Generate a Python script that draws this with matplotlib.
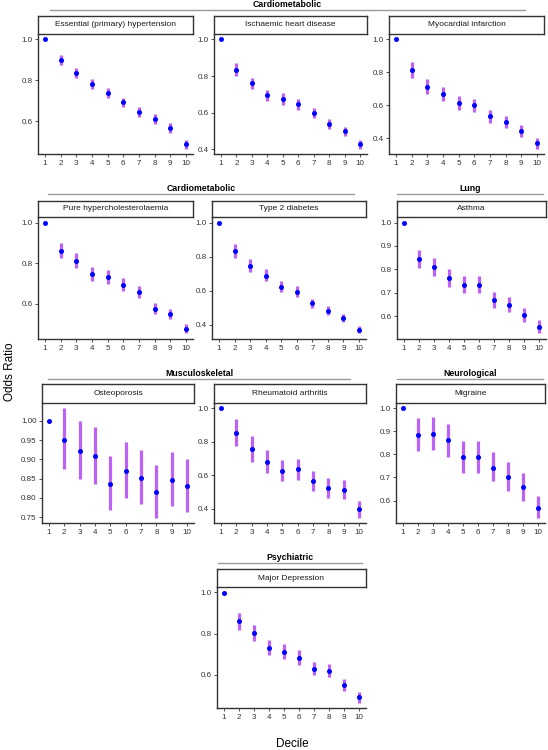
import numpy as np
import matplotlib.pyplot as plt
from matplotlib.ticker import MultipleLocator, FormatStrFormatter

plt.rcParams['font.family'] = ['Liberation Sans', 'DejaVu Sans']

W, H = 548, 750

deciles = [1, 2, 3, 4, 5, 6, 7, 8, 9, 10]

# Odds ratios and 95% CI
ess_or = [1.0, 0.898, 0.836, 0.780, 0.736, 0.691, 0.645, 0.611, 0.566, 0.487]
ess_lo = [1.0, 0.873, 0.811, 0.755, 0.712, 0.667, 0.621, 0.587, 0.543, 0.465]
ess_hi = [1.0, 0.923, 0.861, 0.805, 0.760, 0.715, 0.669, 0.635, 0.589, 0.509]

ihd_or = [1.0, 0.836, 0.760, 0.696, 0.675, 0.646, 0.597, 0.537, 0.499, 0.428]
ihd_lo = [1.0, 0.803, 0.729, 0.666, 0.645, 0.617, 0.569, 0.511, 0.474, 0.405]
ihd_hi = [1.0, 0.870, 0.792, 0.727, 0.706, 0.676, 0.626, 0.564, 0.525, 0.452]

mi_or = [1.0, 0.814, 0.714, 0.670, 0.612, 0.600, 0.534, 0.500, 0.446, 0.370]
mi_lo = [1.0, 0.764, 0.668, 0.626, 0.570, 0.558, 0.495, 0.462, 0.411, 0.339]
mi_hi = [1.0, 0.866, 0.760, 0.714, 0.655, 0.642, 0.574, 0.538, 0.482, 0.402]

hch_or = [1.0, 0.862, 0.812, 0.745, 0.732, 0.693, 0.657, 0.575, 0.550, 0.477]
hch_lo = [1.0, 0.824, 0.776, 0.711, 0.699, 0.662, 0.627, 0.549, 0.525, 0.453]
hch_hi = [1.0, 0.901, 0.849, 0.780, 0.766, 0.725, 0.688, 0.602, 0.576, 0.502]

t2d_or = [1.0, 0.834, 0.747, 0.689, 0.624, 0.594, 0.525, 0.483, 0.440, 0.370]
t2d_lo = [1.0, 0.792, 0.710, 0.655, 0.593, 0.564, 0.498, 0.457, 0.417, 0.349]
t2d_hi = [1.0, 0.877, 0.786, 0.725, 0.657, 0.626, 0.553, 0.510, 0.465, 0.392]

ast_or = [1.0, 0.843, 0.809, 0.763, 0.735, 0.735, 0.668, 0.650, 0.606, 0.555]
ast_lo = [1.0, 0.805, 0.772, 0.727, 0.700, 0.700, 0.636, 0.619, 0.577, 0.527]
ast_hi = [1.0, 0.883, 0.848, 0.801, 0.772, 0.772, 0.702, 0.683, 0.637, 0.584]

ost_or = [1.0, 0.950, 0.922, 0.908, 0.836, 0.871, 0.852, 0.816, 0.847, 0.831]
ost_lo = [1.0, 0.876, 0.849, 0.836, 0.769, 0.800, 0.784, 0.749, 0.779, 0.763]
ost_hi = [1.0, 1.032, 1.000, 0.985, 0.908, 0.944, 0.924, 0.886, 0.918, 0.901]

ra_or = [1.0, 0.851, 0.757, 0.680, 0.627, 0.635, 0.563, 0.524, 0.514, 0.398]
ra_lo = [1.0, 0.773, 0.680, 0.612, 0.563, 0.569, 0.504, 0.463, 0.459, 0.347]
ra_hi = [1.0, 0.935, 0.833, 0.749, 0.694, 0.700, 0.624, 0.582, 0.573, 0.447]

mig_or = [1.0, 0.883, 0.887, 0.861, 0.790, 0.790, 0.742, 0.702, 0.658, 0.568]
mig_lo = [1.0, 0.813, 0.818, 0.790, 0.721, 0.721, 0.684, 0.643, 0.600, 0.526]
mig_hi = [1.0, 0.959, 0.965, 0.933, 0.859, 0.859, 0.810, 0.767, 0.720, 0.621]

mdd_or = [1.0, 0.860, 0.802, 0.733, 0.712, 0.683, 0.631, 0.621, 0.550, 0.491]
mdd_lo = [1.0, 0.820, 0.763, 0.697, 0.677, 0.649, 0.600, 0.590, 0.522, 0.466]
mdd_hi = [1.0, 0.901, 0.842, 0.771, 0.749, 0.719, 0.664, 0.654, 0.580, 0.518]

titles = ["Essential (primary) hypertension", "Ischaemic heart disease",
          "Myocardial infarction", "Pure hypercholesterolaemia", "Type 2 diabetes",
          "Asthma", "Osteoporosis", "Rheumatoid arthritis", "Migraine",
          "Major Depression"]
ors = [ess_or, ihd_or, mi_or, hch_or, t2d_or, ast_or, ost_or, ra_or, mig_or, mdd_or]
los = [ess_lo, ihd_lo, mi_lo, hch_lo, t2d_lo, ast_lo, ost_lo, ra_lo, mig_lo, mdd_lo]
his = [ess_hi, ihd_hi, mi_hi, hch_hi, t2d_hi, ast_hi, ost_hi, ra_hi, mig_hi, mdd_hi]

groups = ["Cardiometabolic", "Cardiometabolic", "Lung", "Musculoskeletal",
          "Neurological", "Psychiatric"]

# layout in pixels: (x0, x1, strip_top, strip_bottom, axis_bottom)
boxes = [
    (38, 193, 16, 34, 154), (214, 367, 16, 34, 154), (389, 544, 16, 34, 154),
    (38, 193, 201, 217, 339), (212, 366, 201, 217, 339), (397, 546, 201, 217, 339),
    (42, 194, 384, 403, 523), (214, 366, 384, 403, 523), (396, 545, 384, 403, 523),
    (217, 366, 569, 587, 708),
]
ysteps = [0.2, 0.2, 0.2, 0.2, 0.2, 0.1, 0.05, 0.2, 0.1, 0.2]
# group header: (x0, x1, y)
headers = [(50, 525, 10), (48, 354, 194), (397, 543, 194), (48, 350, 379),
           (397, 543, 379), (218, 362, 563)]

fig = plt.figure(figsize=(W / 100, H / 100), dpi=100)

def fbox(x0, x1, y0, y1):
    return [x0 / W, 1 - y1 / H, (x1 - x0) / W, (y1 - y0) / H]

for i, (x0, x1, st, sb, ab) in enumerate(boxes):
    ax = fig.add_axes(fbox(x0, x1, sb, ab))
    y = np.array(ors[i])
    lo = np.array(los[i])
    hi = np.array(his[i])
    ax.vlines(deciles, lo, hi, color='#A020F0', alpha=0.7, lw=2.3, zorder=2)
    ax.plot(deciles, y, 'o', color='#0000FF', ms=3.6, mec='none', zorder=3)
    ymin, ymax = min(lo.min(), y.min()), max(hi.max(), y.max())
    pad = (ymax - ymin) * 0.05
    ax.set_ylim(ymin - pad, ymax + pad)
    ax.set_xlim(0.55, 10.45)
    ax.set_xticks(deciles)
    ax.yaxis.set_major_locator(MultipleLocator(ysteps[i]))
    ax.yaxis.set_major_formatter(FormatStrFormatter('%.2f' if ysteps[i] < 0.1 else '%.1f'))
    for s in ['top', 'right']:
        ax.spines[s].set_visible(False)
    for s in ['left', 'bottom']:
        ax.spines[s].set_color('#333333')
        ax.spines[s].set_linewidth(1.0)
    ax.tick_params(length=2, width=0.6, color='#333333', labelsize=5.8,
                   labelcolor='#333333', pad=2)
    ax.set_facecolor('none')

    sax = fig.add_axes(fbox(x0, x1, st, sb))
    sax.set_xticks([])
    sax.set_yticks([])
    for s in sax.spines.values():
        s.set_color('#333333')
        s.set_linewidth(1.0)
    sax.text(0.5, 0.5, titles[i], ha='center', va='center', fontsize=6.0,
             color='#1A1A1A', transform=sax.transAxes)

for g, (x0, x1, yl) in zip(groups, headers):
    fig.add_artist(plt.Line2D([x0 / W, x1 / W], [1 - yl / H, 1 - yl / H],
                              color='#9A9A9A', lw=1.0))
    fig.text((x0 + x1) / 2 / W, 1 - (yl - 5.5) / H, g, ha='center', va='center',
             fontsize=6.3, fontweight='bold', color='black')

fig.text(10 / W, 1 - 372 / H, "Odds Ratio", rotation=90, ha='center', va='center',
         fontsize=8.5)
fig.text(292 / W, 1 - 744 / H, "Decile", ha='center', va='center', fontsize=8.5)

fig.savefig("out.png", dpi=100)
